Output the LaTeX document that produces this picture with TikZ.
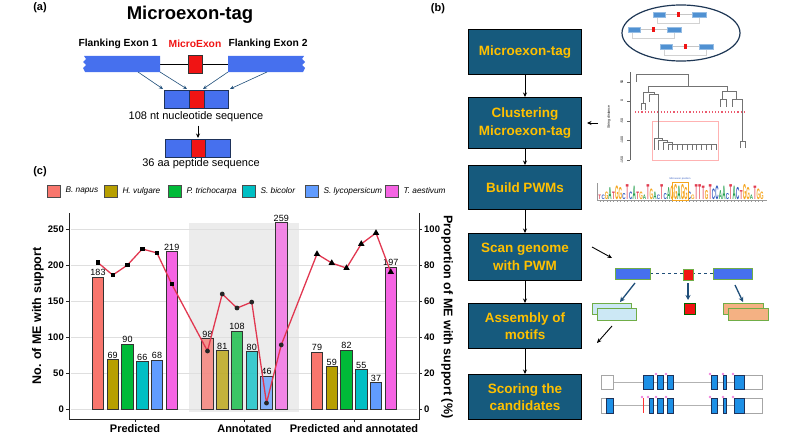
\documentclass[tikz,border=0pt]{standalone}
\usepackage{fontspec}
\setmainfont{Liberation Sans}
\usepackage{graphicx}
\usetikzlibrary{arrows.meta, positioning, shapes.geometric}
\definecolor{exonblue}{RGB}{70, 112, 238}
\definecolor{microred}{RGB}{240, 20, 20}
\definecolor{seqborder}{RGB}{30, 50, 90}
\definecolor{linkteal}{RGB}{31, 78, 121}
\definecolor{flowteal}{RGB}{22, 90, 125}
\definecolor{flowyellow}{RGB}{255, 192, 0}
\definecolor{ovalnavy}{RGB}{30, 55, 85}
\definecolor{tagblue}{RGB}{80, 145, 210}
\definecolor{motifgreen}{RGB}{112, 173, 71}
\definecolor{motifblue}{RGB}{204, 232, 245}
\definecolor{motifsalmon}{RGB}{244, 177, 131}
\definecolor{geneblue}{RGB}{30, 144, 230}
\definecolor{dotpink}{RGB}{240, 130, 220}
\definecolor{cutred}{RGB}{235, 90, 110}
\definecolor{supportline}{RGB}{225, 55, 80}
\definecolor{logoA}{RGB}{40, 160, 80}
\definecolor{logoC}{RGB}{50, 90, 190}
\definecolor{logoG}{RGB}{245, 165, 30}
\definecolor{logoT}{RGB}{225, 60, 80}
\definecolor{sp0}{HTML}{F8766D}
\definecolor{sp1}{HTML}{B79F00}
\definecolor{sp2}{HTML}{00BA38}
\definecolor{sp3}{HTML}{00BFC4}
\definecolor{sp4}{HTML}{619CFF}
\definecolor{sp5}{HTML}{F564E3}

\begin{document}
\begin{tikzpicture}[
    x=1pt, y=-1pt,
    font=\fontsize{9}{11}\selectfont,
    panellabel/.style={font=\fontsize{11}{13}\selectfont\bfseries},
    exonlabel/.style={font=\fontsize{10.3}{12}\selectfont\bfseries},
    seqlabel/.style={font=\fontsize{11}{13}\selectfont},
    seqbox/.style={draw=seqborder, line width=0.8pt},
    flowbox/.style={
        draw=black,
        line width=1pt,
        fill=flowteal,
        text=flowyellow,
        font=\fontsize{13.5}{17.5}\selectfont\bfseries,
        align=center,
        minimum width=113pt,
        minimum height=45pt
    },
    arrow/.style={-{Stealth[length=4.5pt, width=4pt]}, line width=0.9pt, black},
    linkarrow/.style={-{Stealth[length=4pt, width=3.5pt]}, line width=0.6pt, linkteal},
    bluearrow/.style={-{Stealth[length=5pt, width=5pt]}, line width=1.3pt, linkteal},
    tagexon/.style={fill=tagblue, draw=tagblue!60!white, line width=0.3pt},
    motifbox/.style={draw=motifgreen, line width=0.8pt},
    geneexon/.style={fill=geneblue, draw=seqborder, line width=0.4pt},
    genebox/.style={fill=white, draw=gray!70, line width=0.6pt},
    tinylabel/.style={font=\fontsize{3.5}{4}\selectfont, inner sep=0pt},
    legendkey/.style={draw=black!70, line width=0.6pt, minimum width=13pt, minimum height=12pt, inner sep=0pt},
    legendtext/.style={font=\fontsize{8.3}{10}\selectfont\itshape, inner sep=0pt},
    bar/.style={draw=black!80, line width=0.6pt},
    barlabel/.style={anchor=south, inner sep=1pt, font=\fontsize{9}{10}\selectfont},
    ticklabel/.style={inner sep=1pt, font=\fontsize{9.5}{10}\selectfont\bfseries},
    catlabel/.style={font=\fontsize{11}{13}\selectfont\bfseries},
    axistitle/.style={font=\fontsize{12.5}{14}\selectfont\bfseries},
    sqmarker/.style={rectangle, fill=black, minimum size=4.5pt, inner sep=0pt},
    dotmarker/.style={circle, fill=black!85, minimum size=4.8pt, inner sep=0pt},
    trimarker/.style={regular polygon, regular polygon sides=3, fill=black, minimum size=7.5pt, inner sep=0pt}
]
    \useasboundingbox (0,0) rectangle (800,436);

    % (a) Microexon-tag
    \node[panellabel] (labA) at (40,8) {(a)};
    \node[font=\fontsize{18.5}{22}\selectfont\bfseries] (titleA) at (190,15) {Microexon-tag};
    \node[exonlabel] (flank1) at (118,44) {Flanking Exon 1};
    \node[exonlabel, text=microred] (micro) at (195,44) {MicroExon};
    \node[exonlabel] (flank2) at (268,44) {Flanking Exon 2};

    \draw[line width=0.8pt] (160,64) -- (228,64);
    \fill[exonblue] (160,56) -- (84,56) -- (86,59) -- (83,62) -- (86,65) -- (83,68) -- (85,72) -- (160,72) -- cycle;
    \fill[exonblue] (228,56) -- (304,56) -- (302,59) -- (305,62) -- (302,65) -- (305,68) -- (303,72) -- (228,72) -- cycle;
    \draw[fill=microred, draw=black!80, line width=0.6pt] (188,55) rectangle (202,73);

    \draw[seqbox, fill=exonblue] (164,90) rectangle (228,108);
    \draw[seqbox, fill=microred] (189,90) rectangle (204,108);
    \node[seqlabel] (ntseq) at (196,117) {108 nt nucleotide sequence};
    \draw[seqbox, fill=exonblue] (165,139) rectangle (230,157);
    \draw[seqbox, fill=microred] (191,139) rectangle (205,157);
    \node[seqlabel] (aaseq) at (201,164) {36 aa peptide sequence};

    \draw[linkarrow] (138,72) -- (163,89);
    \draw[linkarrow] (160,72) -- (187,89);
    \draw[linkarrow] (228,72) -- (203,89);
    \draw[linkarrow] (267,72) -- (230,89);
    \draw[arrow, line width=0.8pt] (ntseq.south -| 198,0) -- (198,138);

    % (b) pipeline
    \node[panellabel] (labB) at (438,9) {(b)};
    \draw[ovalnavy, line width=1.2pt] (681,33) ellipse [x radius=59, y radius=28];
    \foreach \tx/\ty in {653/12, 628/27, 660/44} {
        \draw[gray!45, line width=0.8pt] (\tx+12,\ty+2.5) -- (\tx+39,\ty+2.5);
        \draw[gray!35, line width=0.8pt] (\tx+4,\ty+5) -- (\tx+4,\ty+11) -- (\tx+46,\ty+11) -- (\tx+46,\ty+5);
        \draw[tagexon] (\tx,\ty) rectangle (\tx+12,\ty+5);
        \draw[tagexon] (\tx+39,\ty) rectangle (\tx+53,\ty+5);
        \fill[microred] (\tx+24,\ty) rectangle (\tx+26.5,\ty+5);
    }

    % Nodes
    \node[flowbox] (tag) at (525,52) {Microexon-tag};
    \node[flowbox, minimum height=51pt, below=22pt of tag] (clust) {Clustering\\Microexon-tag};
    \node[flowbox, minimum height=44pt, below=16pt of clust] (pwm) {Build PWMs};
    \node[flowbox, minimum height=47pt, below=23pt of pwm] (scan) {Scan genome\\with PWM};
    \node[flowbox, below=22pt of scan] (assem) {Assembly of\\motifs};
    \node[flowbox, below=25pt of assem] (score) {Scoring the\\candidates};

    % Edges
    \foreach \a/\b in {tag/clust, clust/pwm, pwm/scan, scan/assem, assem/score}
        \draw[arrow] (\a) -- (\b);

    % dendrogram
    \coordinate (dendro) at (598,123);
    \draw[arrow] (dendro) -- (clust.east -| 587,0);
    \draw[black!60, line width=0.5pt] (630,72) -- (630,160);
    \foreach \t/\ty in {50/82, 0/101, -50/121, -100/140, -150/160} {
        \draw[black!60, line width=0.5pt] (627,\ty) -- (630,\ty);
        \node[tinylabel, rotate=90] at (622,\ty) {\t};
    }
    \node[tinylabel, rotate=90] (sdist) at (609,117) {String distance};
    \draw[cutred, dotted, line width=1.2pt] (635,112) -- (746,112);
    \draw[red!30, line width=0.7pt] (652,121) rectangle (718,160);
    \begin{scope}[black!55, line width=0.7pt]
        \draw (636,82) -- (636,74) -- (688,74) -- (688,86);
        \draw (648,86) -- (727,86);
        \draw (648,86) -- (648,92);
        \draw (643,92) -- (654,92);
        \draw (643,92) -- (643,103);
        \draw (641,103) -- (645,103);
        \draw (641,103) -- (641,110);
        \draw (645,103) -- (645,110);
        \draw (654,92) -- (654,94);
        \draw (649,94) -- (658,94);
        \draw (649,94) -- (649,102);
        \draw (658,94) -- (658,138);
        \draw (654,138) -- (662,138);
        \draw (654,138) -- (654,150);
        \draw (662,138) -- (662,140) (658,140) -- (667,140) (658,140) -- (658,150);
        \draw (667,140) -- (667,142) (663,142) -- (672,142) (663,142) -- (663,150);
        \draw (672,142) -- (672,144) (668,144) -- (716,144);
        \foreach \lx in {668,672.8,...,716.1}
            \draw (\lx,144) -- (\lx,150);
        \draw (727,86) -- (727,91);
        \draw (722,91) -- (736,91);
        \draw (722,91) -- (722,99) (720,99) -- (726,99) (720,99) -- (720,107) (726,99) -- (726,107);
        \draw (736,91) -- (736,99) (732,99) -- (742,99) (732,99) -- (732,107);
        \draw (742,99) -- (742,141) (740,141) -- (745,141) (740,141) -- (740,148) (745,141) -- (745,148);
    \end{scope}

    % sequence logo
    \draw[gray!80, line width=0.3pt] (597,183) -- (597,200) -- (767,200);
    \foreach \c in {1,...,48}
        \draw[gray!80, line width=0.2pt] ({598+3.45*(\c-0.5)},200) -- ({598+3.45*(\c-0.5)},202);
    \foreach \l/\h [count=\c] in {T/0.3, C/0.3, G/0.5, A/0.8, T/0.5, G/0.9, G/0.8, C/0.4,
        T/1.0, C/0.5, A/0.9, T/0.5, G/0.5, A/0.3, T/1.0, G/0.7, A/0.5, C/0.3, T/1.0, C/0.4,
        A/0.8, G/0.9, G/1.0, A/0.9, G/1.0, G/0.8, C/0.5, G/0.3, T/1.0, T/1.0, T/0.9, G/0.6,
        T/1.0, C/0.7, C/0.9, A/0.6, A/0.9, C/0.4, T/1.0, A/0.9, C/0.8, T/0.6, G/1.0, G/0.8,
        A/0.3, T/0.9, G/0.7, G/0.5} {
        \pgfmathsetmacro{\hs}{\h*3.6}
        \node[inner sep=0pt, anchor=south, text=logo\l] (logo\c) at ({598+3.45*(\c-0.5)},199.5)
            {\scalebox{0.75}[\hs]{\fontsize{6}{6}\selectfont\bfseries \l}};
    }
    \draw[logoG, line width=0.5pt] (672,182) rectangle (688,200);
    \node[font=\fontsize{2.5}{3}\selectfont, text=logoC, inner sep=0pt] (mepos) at (680,179) {Microexon position};

    % scanning
    \coordinate (scanfrom) at (592,247);
    \coordinate (scanto) at (612,258);
    \draw[arrow] (scanfrom) -- (scanto);
    \draw[linkteal, dashed, line width=0.8pt] (650,273.5) -- (713,273.5);
    \draw[motifbox, fill=exonblue] (615,268) rectangle (650,279);
    \draw[motifbox, fill=microred] (683,269) rectangle (693,280);
    \draw[motifbox, fill=exonblue] (713,268) rectangle (752,279);
    \draw[bluearrow] (635,283) -- (620,302);
    \draw[bluearrow] (688,283) -- (688,300);
    \draw[bluearrow] (735,285) -- (743,302);

    % assembly
    \draw[motifbox, fill=motifblue] (592,303) rectangle (631,314);
    \draw[motifbox, fill=motifblue] (597,308) rectangle (636,320);
    \draw[draw=green!40!black, line width=0.8pt, fill=microred] (684,303) rectangle (695,314);
    \draw[motifbox, fill=motifsalmon] (723,303) rectangle (763,314);
    \draw[motifbox, fill=motifsalmon] (728,308) rectangle (768,320);
    \coordinate (assemfrom) at (612,326);
    \coordinate (assemto) at (597,343);
    \draw[arrow] (assemfrom) -- (assemto);

    % scoring
    \draw[gray!60, line width=0.9pt] (613,382) -- (744,382);
    \draw[genebox] (601,375) rectangle (613,389);
    \draw[genebox] (744,375) rectangle (762,389);
    \foreach \ea/\eb in {643/653, 657/663, 667/673, 711/717, 723/726, 734/744}
        \draw[geneexon] (\ea,375) rectangle (\eb,389);
    \foreach \px in {656,666,710,723,733}
        \fill[dotpink] (\px,374) circle (1.3pt);
    \draw[gray!60, line width=0.9pt] (613,405.5) -- (744,405.5);
    \draw[genebox] (601,398) rectangle (613,413);
    \draw[geneexon] (606,398) rectangle (613,413);
    \draw[genebox] (744,398) rectangle (762,413);
    \draw[red!80, line width=0.8pt] (643,398) -- (643,413);
    \foreach \ea/\eb in {649/653, 657/663, 667/673, 711/717, 723/726, 734/744}
        \draw[geneexon] (\ea,398) rectangle (\eb,413);
    \foreach \px in {642,648,656,666,710,723,733}
        \fill[dotpink] (\px,397) circle (1.3pt);

    % (c) chart
    \node[panellabel] (labC) at (40,172) {(c)};
    \foreach \c/\spname/\kx in {0/B. napus/47, 1/H. vulgare/104, 2/P. trichocarpa/168,
        3/S. bicolor/242, 4/S. lycopersicum/305, 5/T. aestivum/385} {
        \node[legendkey, fill=sp\c] (key\c) at (\kx+6.5,191) {};
        \node[legendtext, right=5pt of key\c] (leg\c) {\spname};
    }

    \fill[gray!15] (189,223) rectangle (299,412);
    \foreach \t in {0,50,...,250}
        \draw[gray!25, line width=0.9pt] (71,{409-0.72*\t}) -- (417,{409-0.72*\t});

    \foreach \g/\vals in {0/{183,69,90,66,68,219}, 1/{98,81,108,80,46,259}, 2/{79,59,82,55,37,197}} {
        \foreach \v [count=\i from 0] in \vals {
            \pgfmathsetmacro{\cx}{98+109.5*\g+14.75*\i}
            \pgfmathsetmacro{\op}{\g==1 ? 0.75 : 1}
            \draw[bar, fill=sp\i, fill opacity=\op] (\cx-5.75,409) rectangle (\cx+5.75,{409-0.72*\v});
            \node[barlabel] (bl\g\i) at (\cx,{409-0.72*\v}) {\v};
        }
    }

    \draw[black!85, line width=0.7pt] (69,213) -- (69,419) -- (419,419) -- (419,213);
    \foreach \t in {0,50,...,250} {
        \draw[black!85, line width=0.6pt] (66,{409-0.72*\t}) -- (69,{409-0.72*\t});
        \node[ticklabel, anchor=east] at (65,{409-0.72*\t}) {\t};
    }
    \foreach \t in {0,20,...,100} {
        \draw[black!85, line width=0.6pt] (419,{409-1.8*\t}) -- (422,{409-1.8*\t});
        \node[ticklabel, anchor=west] at (423,{409-1.8*\t}) {\t};
    }
    \foreach \g/\cat in {0/Predicted, 1/Annotated, 2/Predicted and annotated} {
        \draw[black!85, line width=0.6pt] ({135+109.5*\g},419) -- ({135+109.5*\g},422);
        \node[catlabel] (cat\g) at ({135+109.5*\g},429) {\cat};
    }
    \node[axistitle, rotate=90] (ytitle) at (38,316) {No. of ME with support};
    \node[axistitle, rotate=-90] (y2title) at (447,317) {Proportion of ME with support (\%)};

    % support line
    \foreach \p [count=\k from 0] in {81.3,74.4,80,88.9,86.7,69.4,32.2,63.9,56.1,59.4,3.3,35.6,
        86.1,81.1,78.3,91.7,97.8,76.1}
        \coordinate (p\k) at ({98+109.5*int(\k/6)+14.75*mod(\k,6)},{409-1.8*\p});
    \draw[supportline, line width=1.3pt, line join=round] (p0) \foreach \k in {1,...,17} {-- (p\k)};
    \foreach \k in {0,...,5} \node[sqmarker] at (p\k) {};
    \foreach \k in {6,...,11} \node[dotmarker] at (p\k) {};
    \foreach \k in {12,...,17} \node[trimarker] at (p\k) {};

\end{tikzpicture}
\end{document}
